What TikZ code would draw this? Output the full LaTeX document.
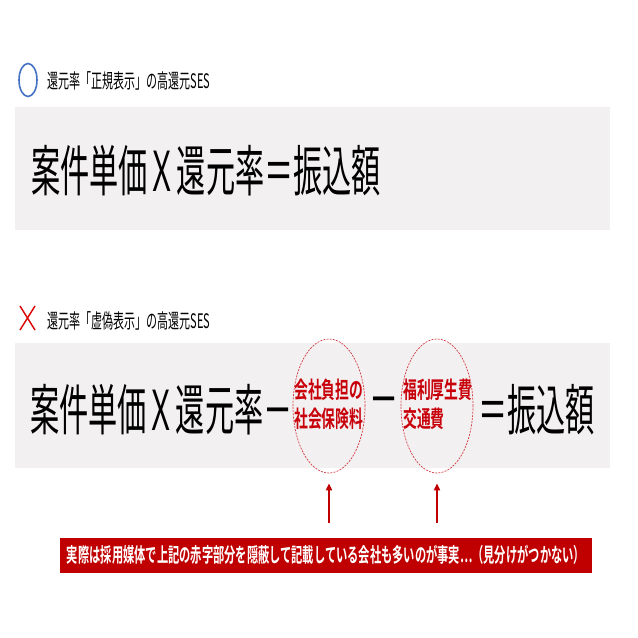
\documentclass[tikz,border=0pt]{standalone}
\usepackage{fontspec}
\usepackage{graphicx}
\newfontfamily\jp{Noto Sans CJK JP}
\newfontfamily\jpb{Noto Sans CJK JP Bold}
\usetikzlibrary{arrows.meta,shapes.geometric}
\definecolor{boxgray}{RGB}{242,240,240}
\definecolor{darkred}{RGB}{192,0,0}
\definecolor{dashred}{RGB}{214,60,70}
\definecolor{txtred}{RGB}{200,0,10}
\definecolor{blueo}{RGB}{68,114,196}
\newcommand{\bigjp}[1]{\scalebox{0.53}[1]{\jp\fontsize{55}{55}\selectfont #1}}
\newcommand{\redjp}[1]{\scalebox{0.6}[1]{\jpb\fontsize{23}{23}\selectfont #1}}
\tikzset{
  bigtext/.style={inner sep=0pt, text=black},
  headtext/.style={anchor=west, inner sep=0pt, text=black},
  redtext/.style={anchor=west, inner sep=0pt, text=txtred},
  dashell/.style={ellipse, draw=dashred, line width=0.7pt, dash pattern=on 2pt off 1.2pt, minimum width=72, minimum height=134, inner sep=0pt},
  uparrow/.style={draw=darkred, line width=1.8pt, -{Triangle[length=7pt,width=6pt]}},
  notebox/.style={fill=darkred, text=white, minimum width=532, minimum height=35, inner sep=0pt},
}
\begin{document}
\begin{tikzpicture}[x=1pt,y=-1pt]
\useasboundingbox (0,0) rectangle (638,638);
\fill[white] (0,0) rectangle (638,638);

% header 1
\node[ellipse, draw=blueo, line width=1.6pt, minimum width=18, minimum height=33, inner sep=0pt] (okmark) at (28,80) {};
\node[headtext] (head1) at (47,81) {\resizebox{163pt}{\height}{\jp\fontsize{20}{20}\selectfont 還元率「正規表示」の高還元SES}};

% box 1
\fill[boxgray] (15,107) rectangle (610,230);
\node[bigtext, anchor=west] (row1) at (31,171) {\bigjp{案件単価Ｘ還元率＝振込額}};

% header 2
\draw[red!85!black, line width=1.4pt] (20,306) -- (35,330) (35,306) -- (20,330);
\node[headtext] (head2) at (47,321) {\resizebox{163pt}{\height}{\jp\fontsize{20}{20}\selectfont 還元率「虚偽表示」の高還元SES}};

% box 2
\fill[boxgray] (15,343) rectangle (610,468);
\node[bigtext, anchor=west] (row2a) at (30,410) {\bigjp{案件単価Ｘ還元率－}};
\node[bigtext] (minus2) at (384,408) {\bigjp{－}};
\node[bigtext, anchor=west] (row2b) at (478,410) {\bigjp{＝振込額}};

\node[dashell] (e1) at (329,406) {};
\node[dashell] (e2) at (437,406) {};
\node[redtext] (e1a) at (294,390) {\redjp{会社負担の}};
\node[redtext] (e1b) at (294,419) {\redjp{社会保険料}};
\node[redtext] (e2a) at (403,390) {\redjp{福利厚生費}};
\node[redtext] (e2b) at (403,419) {\redjp{交通費}};

% note
\node[notebox] (note) at (326,555) {\resizebox{518pt}{\height}{\jpb\fontsize{20}{20}\selectfont 実際は採用媒体で上記の赤字部分を隠蔽して記載している会社も多いのが事実…（見分けがつかない）}};

\coordinate (a1) at (329,523);
\coordinate (a2) at (437,523);
\draw[uparrow, shorten >=10pt] (a1) -- (e1.south);
\draw[uparrow, shorten >=10pt] (a2) -- (e2.south);
\end{tikzpicture}
\end{document}
